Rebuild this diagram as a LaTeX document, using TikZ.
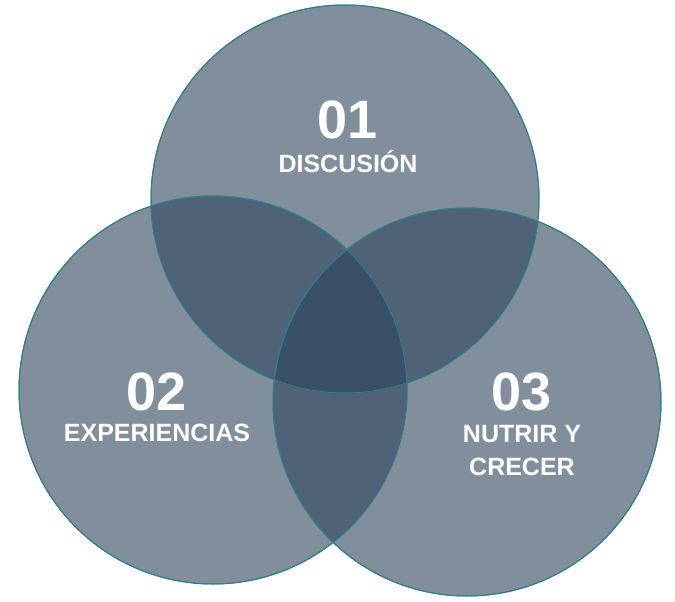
\documentclass[tikz,border=0pt]{standalone}
\usepackage{fontspec}
\setmainfont{Liberation Sans}
\definecolor{venn}{HTML}{2D445C}
\definecolor{edge}{HTML}{2F7F86}
\begin{document}
\begin{tikzpicture}[x=1pt,y=-1pt,
  circ/.style={fill=venn,fill opacity=0.6,draw=edge,line width=1pt},
  num/.style={text=white,font=\bfseries\fontsize{54}{54}\selectfont},
  lab/.style={text=white,font=\bfseries\fontsize{25}{33}\selectfont,align=center}]
\useasboundingbox (0,0) rectangle (675,602);
\fill[circ] (345,199) circle (194);
\fill[circ] (213,390) circle (194);
\fill[circ] (467,402) circle (194);
\draw[edge,line width=1pt] (345,199) circle (194) (213,390) circle (194) (467,402) circle (194);
\node[num] (n1) at (348,120) {01};
\node[lab] (l1) at (348,162) {DISCUSIÓN};
\node[num] (n2) at (157,392) {02};
\node[lab] (l2) at (157,433) {EXPERIENCIAS};
\node[num] (n3) at (522,392) {03};
\node[lab] (l3) at (522,451) {NUTRIR Y\\CRECER};
\end{tikzpicture}
\end{document}
